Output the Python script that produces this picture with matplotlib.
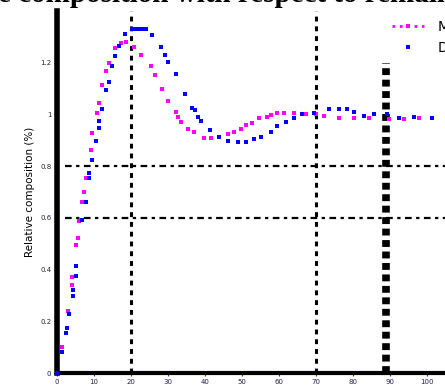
import matplotlib
matplotlib.use("Agg")
import matplotlib.pyplot as plt
from matplotlib.lines import Line2D

# ---- data ----
blue_t = [0, 0.14, 0.24, 0.27, 0.32, 0.43, 0.43, 0.51, 0.51, 0.68, 0.78, 0.86, 0.86, 0.95,
          1.05, 1.14, 1.14, 1.22, 1.32, 1.41, 1.49, 1.57, 1.68, 1.84, 2.03, 2.12, 2.22, 2.31,
          2.41, 2.57, 2.81, 2.92, 3.00, 3.22, 3.46, 3.65, 3.73, 3.81, 3.89, 4.14, 4.38, 4.62,
          4.89, 5.11, 5.32, 5.51, 5.78, 5.95, 6.19, 6.41, 6.62, 6.95, 7.35, 7.62, 7.84, 8.03,
          8.30, 8.57, 8.92, 9.24, 9.65, 10.14]
blue_v = [0, 0.41, 0.77, 0.87, 1.14, 1.49, 1.61, 1.88, 2.07, 2.96, 3.31, 3.77, 3.87, 4.12,
          4.49, 4.74, 4.87, 5.11, 5.47, 5.63, 5.94, 6.13, 6.33, 6.56, 6.65, 6.65, 6.65, 6.65,
          6.65, 6.54, 6.31, 6.15, 6.02, 5.78, 5.40, 5.13, 5.09, 4.95, 4.87, 4.70, 4.56, 4.49,
          4.47, 4.47, 4.53, 4.56, 4.66, 4.78, 4.85, 4.93, 5.01, 5.03, 5.11, 5.11, 5.11, 5.05,
          4.97, 5.01, 5.01, 4.93, 4.95, 4.93]

mag_t = [0.14, 0.30, 0.41, 0.41, 0.51, 0.57, 0.59, 0.68, 0.73, 0.78, 0.92, 0.95, 1.08, 1.14,
         1.22, 1.32, 1.41, 1.57, 1.73, 1.86, 2.08, 2.27, 2.54, 2.65, 2.84, 3.00, 3.22, 3.27,
         3.35, 3.54, 3.70, 3.97, 4.16, 4.62, 4.78, 4.97, 5.11, 5.27, 5.46, 5.68, 5.78, 5.95,
         6.14, 6.41, 6.73, 7.00, 7.22, 7.62, 8.03, 8.43, 8.97, 9.38, 9.78]
mag_v = [0.50, 1.20, 1.70, 1.86, 2.48, 2.61, 2.94, 3.31, 3.50, 3.77, 4.31, 4.64, 5.03, 5.22,
         5.57, 5.84, 6.00, 6.29, 6.38, 6.40, 6.31, 6.15, 5.94, 5.76, 5.49, 5.26, 5.05, 4.95,
         4.85, 4.72, 4.66, 4.55, 4.55, 4.62, 4.66, 4.72, 4.80, 4.84, 4.93, 4.95, 4.99, 5.03,
         5.03, 5.03, 5.01, 5.01, 4.97, 4.93, 4.93, 4.93, 4.91, 4.91, 4.93]

x_ticks = [0, 1, 2, 3, 4, 5, 6, 7, 8, 9, 10]
x_ticklabels = ["0", "10", "20", "30", "40", "50", "60", "70", "80", "90", "100"]
y_ticks = [0, 1, 2, 3, 4, 5, 6]
y_ticklabels = ["0", "0.2", "0.4", "0.6", "0.8", "1", "1.2"]
vlines_x = [2, 7]
thick_vline_x = 8.9
hlines_y = [3, 4]
title_text = "e composition with respect to remaining"
ylabel_text = "Relative composition (%)"
labels = ["Model", "Data"]

W, H = 445, 386
fig = plt.figure(figsize=(W / 100, H / 100), dpi=100)
ax = fig.add_axes([57 / W, 13 / H, 407 / W, 362 / H])
ax.set_xlim(0, 11)
ax.set_ylim(0, 7)

for xv in vlines_x:
    ax.axvline(xv, color="black", lw=2.2, ls=(0, (1.6, 1.6)), zorder=1)
ax.vlines(thick_vline_x, 0, 6.0, color="black", lw=5.5, linestyles=[(0, (0.9, 0.6))], zorder=1)
for yv in hlines_y:
    ax.hlines(yv, 0.22, 11, color="black", lw=1.6, linestyles=[(0, (3, 2, 1.5, 2))], zorder=1)

ax.plot(mag_t, mag_v, ls="none", marker="s", ms=2.6, mew=0, color="#ff00ff", zorder=4)
ax.plot(blue_t, blue_v, ls="none", marker="s", ms=3.0, mew=0, color="#0000ff", zorder=5,
        clip_on=False)

for s in ["top", "right"]:
    ax.spines[s].set_visible(False)
ax.spines["left"].set_linewidth(4.0)
ax.spines["bottom"].set_linewidth(3.0)

ax.set_xticks(x_ticks)
ax.set_xticklabels(x_ticklabels, fontsize=5)
ax.set_yticks(y_ticks)
ax.set_yticklabels(y_ticklabels, fontsize=5)
ax.tick_params(axis="both", length=2, width=0.8, pad=2, colors="#553300", labelcolor="#222244")
ax.set_ylabel(ylabel_text, fontsize=7.5, labelpad=4)

handles = [Line2D([], [], color="#ff00ff", ls=":", lw=2, marker="s", ms=2.5, mew=0),
           Line2D([], [], color="#0000ff", ls="none", marker="s", ms=2.5, mew=0)]
ax.legend(handles, labels, loc="upper left", bbox_to_anchor=(386 / W, 1 - 14 / H),
          bbox_transform=fig.transFigure, frameon=False, fontsize=10,
          handlelength=2.3, handletextpad=1.0, labelspacing=0.55, borderaxespad=0)

fig.text(-2 / W, 1 - 2.5 / H, title_text, fontsize=21, family="Liberation Serif",
         fontweight="bold", ha="left", va="baseline")

fig.savefig("out.png", dpi=100)
